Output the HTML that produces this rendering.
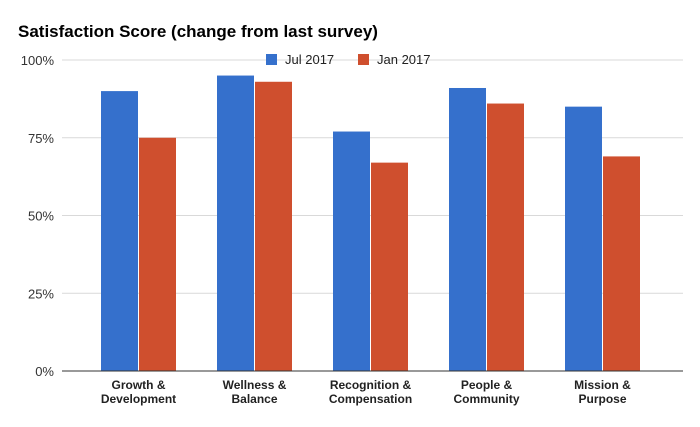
<!DOCTYPE html>
<html><head><meta charset="utf-8"><style>
body{margin:0;background:#fff;}
svg{display:block;font-family:"Liberation Sans",Arial,sans-serif;}
</style></head><body>
<svg id="chart" width="700" height="427">
<text x="18" y="37" font-size="17" font-weight="bold" fill="#000">Satisfaction Score (change from last survey)</text>
<g id="grid"></g><g id="bars"></g><g id="xl"></g>
<g>
<g><rect x="266" y="54" width="11" height="11" fill="#3570cc"/><text x="285" y="64" font-size="13" fill="#222">Jul 2017</text></g>
<g><rect x="358" y="54" width="11" height="11" fill="#cf4f2e"/><text x="377" y="64" font-size="13" fill="#222">Jan 2017</text></g>
</g>
</svg>
<script>
const categories=[["Growth &","Development"],["Wellness &","Balance"],["Recognition &","Compensation"],["People &","Community"],["Mission &","Purpose"]];
const jul2017=[90,95,77,91,85];
const jan2017=[75,93,67,86,69];
const yTicks=[0,25,50,75,100];
const yTickLabels=["0%","25%","50%","75%","100%"];
const NS="http://www.w3.org/2000/svg";
const plotTop=60,plotBot=371,plotLeft=62,plotRight=683,gLeft=80.5,gW=116,bw=37;
const yS=v=>plotBot-(plotBot-plotTop)*v/100;
const xc=i=>gLeft+gW*(i+0.5);
function mk(t,a,p){const e=document.createElementNS(NS,t);for(const k in a)e.setAttribute(k,a[k]);p.appendChild(e);return e;}
const grid=document.getElementById('grid'),bars=document.getElementById('bars'),xl=document.getElementById('xl');
yTicks.forEach((v,i)=>{
 const l=mk('line',{x1:plotLeft,x2:plotRight,y1:yS(v),y2:yS(v),stroke:v===0?'#333':'#d9d9d9','stroke-width':1},grid);
 
 
 const t=mk('text',{x:54,y:yS(v)+5,'font-size':13,'text-anchor':'end',fill:'#333'},grid);
 t.textContent=yTickLabels[i];
 
 
});
categories.forEach((c,i)=>{
 const b1=mk('rect',{x:xc(i)-bw-0.5,y:yS(jul2017[i]),width:bw,height:plotBot-yS(jul2017[i]),fill:'#3570cc'},bars);
 
 
 const b2=mk('rect',{x:xc(i)+0.5,y:yS(jan2017[i]),width:bw,height:plotBot-yS(jan2017[i]),fill:'#cf4f2e'},bars);
 
 
 const t=mk('text',{x:xc(i),'font-size':12,'font-weight':'bold','text-anchor':'middle',fill:'#222'},xl);
 
 
 c.forEach((s,j)=>{const ts=mk('tspan',{x:xc(i),y:389+j*14},t);ts.textContent=s;});
});
const ax=mk('line',{x1:plotLeft,x2:plotRight,y1:plotBot,y2:plotBot,stroke:'#333','stroke-width':1},bars);


</script>
</body></html>
